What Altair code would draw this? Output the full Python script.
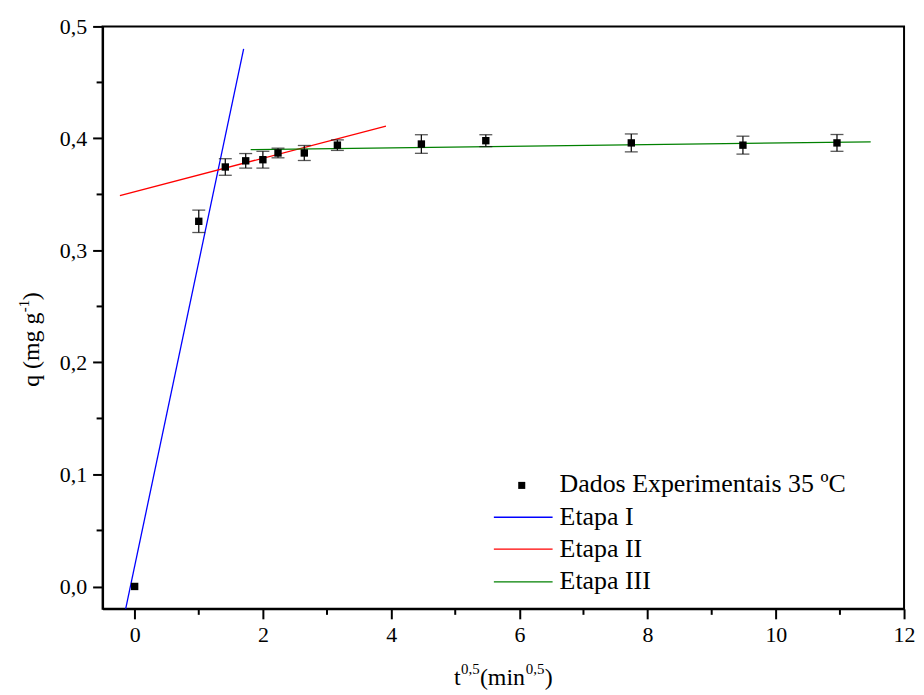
import altair as alt
import pandas as pd

# ---- data ----
t_sqrt = [0.0, 1.0, 1.414, 1.732, 2.0, 2.236, 2.646, 3.162, 4.472, 5.477, 7.746, 9.487, 10.954]
q_vals = [0.000, 0.326, 0.3745, 0.380, 0.381, 0.387, 0.387, 0.394, 0.395, 0.398, 0.396, 0.394, 0.396]
q_err = [0.0, 0.010, 0.0074, 0.0065, 0.0075, 0.0043, 0.0067, 0.0047, 0.0083, 0.0053, 0.008, 0.008, 0.0075]

stage_names = ["Etapa I", "Etapa II", "Etapa III"]
stage_colors = ["#0000ff", "#ff0000", "#008000"]
stage_x = [[-0.14, 1.70], [-0.23, 3.92], [1.81, 11.48]]
stage_q = [[-0.02, 0.48], [0.349, 0.411], [0.390, 0.397]]

x_major = [0, 2, 4, 6, 8, 10, 12]
x_minor = [1, 3, 5, 7, 9, 11]
y_major = [0.0, 0.1, 0.2, 0.3, 0.4, 0.5]
y_minor = [0.05, 0.15, 0.25, 0.35, 0.45]

legend_labels = ["Dados Experimentais 35 ºC", "Etapa I", "Etapa II", "Etapa III"]

FONT = "Liberation Serif"
W, H = 805, 585

xs = alt.Scale(domain=[-0.5, 12], nice=False, zero=False)
ys = alt.Scale(domain=[-0.02, 0.5], nice=False, zero=False)

pts = pd.DataFrame({"t": t_sqrt, "q": q_vals, "err": q_err})
pts["lo"] = pts["q"] - pts["err"]
pts["hi"] = pts["q"] + pts["err"]
errs = pts[pts["err"] > 0]

rows = []
for name, xx, qq in zip(stage_names, stage_x, stage_q):
    for a, b in zip(xx, qq):
        rows.append({"stage": name, "x": a, "q": b})
lines_df = pd.DataFrame(rows)

xaxis = alt.Axis(values=x_major, title=None, grid=False, labelFont=FONT, labelFontSize=22,
                 labelColor="black", tickSize=10, tickWidth=2, tickColor="black",
                 domainColor="black", domainWidth=2, labelPadding=6, labelFlush=False,
                 labelOverlap=False)
yaxis = alt.Axis(values=y_major, title=None, grid=False, labelFont=FONT, labelFontSize=22,
                 labelColor="black", tickSize=10, tickWidth=2, tickColor="black",
                 domainColor="black", domainWidth=2, labelPadding=6, labelFlush=False,
                 labelOverlap=False,
                 labelExpr="replace(format(datum.value, '.1f'), '.', ',')")


def X(field):
    return alt.X(field, scale=xs, axis=xaxis)


def Y(field):
    return alt.Y(field, scale=ys, axis=yaxis)


points = alt.Chart(pts).mark_square(size=55, color="black", opacity=1).encode(
    x=X("t:Q"), y=Y("q:Q"))

err_rule = alt.Chart(errs).mark_rule(color="#111111", strokeWidth=1.3).encode(
    x=X("t:Q"), y=Y("lo:Q"), y2="hi:Q")
cap_lo = alt.Chart(errs).mark_tick(orient="horizontal", size=13, thickness=1.3, color="#111111").encode(
    x=X("t:Q"), y=Y("lo:Q"))
cap_hi = alt.Chart(errs).mark_tick(orient="horizontal", size=13, thickness=1.3, color="#111111").encode(
    x=X("t:Q"), y=Y("hi:Q"))

fit_lines = alt.Chart(lines_df).mark_line(strokeWidth=1.3).encode(
    x=X("x:Q"), y=Y("q:Q"),
    color=alt.Color("stage:N", scale=alt.Scale(domain=stage_names, range=stage_colors), legend=None),
    detail="stage:N",
    order="x:Q",
)

# minor ticks
xminor = alt.Chart(pd.DataFrame({"v": x_minor})).mark_rule(color="black", strokeWidth=2).encode(
    x=X("v:Q"), y=alt.value(H), y2=alt.value(H + 6))
yminor = alt.Chart(pd.DataFrame({"v": y_minor})).mark_rule(color="black", strokeWidth=2).encode(
    y=Y("v:Q"), x=alt.value(0), x2=alt.value(-6))

one = pd.DataFrame({"a": [0]})


def txt(s, x, y, size, angle=0, align="left"):
    kw = dict(text=s, font=FONT, fontSize=size, align=align, baseline="alphabetic", color="black")
    if angle:
        kw["angle"] = angle
    return alt.Chart(one).mark_text(**kw).encode(x=alt.value(x), y=alt.value(y))


# axis titles (page coords minus plot origin 103, 25)
titles = [
    txt("t", 456 - 103, 661, 24),
    txt("0,5", 463 - 103, 650, 15),
    txt("(min", 482 - 103, 661, 24),
    txt("0,5", 528 - 103, 650, 15),
    txt(")", 547 - 103, 661, 24),
    txt("q (mg g", 39 - 103, 387 - 25, 24, angle=270),
    txt("-1", 29 - 103, 312 - 25, 15, angle=270),
    txt(")", 39 - 103, 300 - 25, 24, angle=270),
]

# legend
leg = []
leg.append(alt.Chart(one).mark_square(size=50, color="black", opacity=1).encode(
    x=alt.value(421), y=alt.value(461)))
leg_line_y = [493, 525, 558]
for c, ly in zip(stage_colors, leg_line_y):
    leg.append(alt.Chart(one).mark_rule(color=c, strokeWidth=1.3).encode(
        x=alt.value(393), x2=alt.value(452), y=alt.value(ly)))
leg_base = [468, 501, 533, 565]
for lab, by in zip(legend_labels, leg_base):
    leg.append(txt(lab, 459, by, 26))

chart = alt.layer(
    fit_lines, err_rule, cap_lo, cap_hi, points, xminor, yminor, *titles, *leg
).properties(
    width=W, height=H,
    padding={"left": 95, "top": 17, "right": 12, "bottom": 80},
    autosize=alt.AutoSizeParams(type="none"),
).configure_view(stroke="black", strokeWidth=2)

chart.save("out.html", embed_options={"renderer": "svg", "actions": False})
